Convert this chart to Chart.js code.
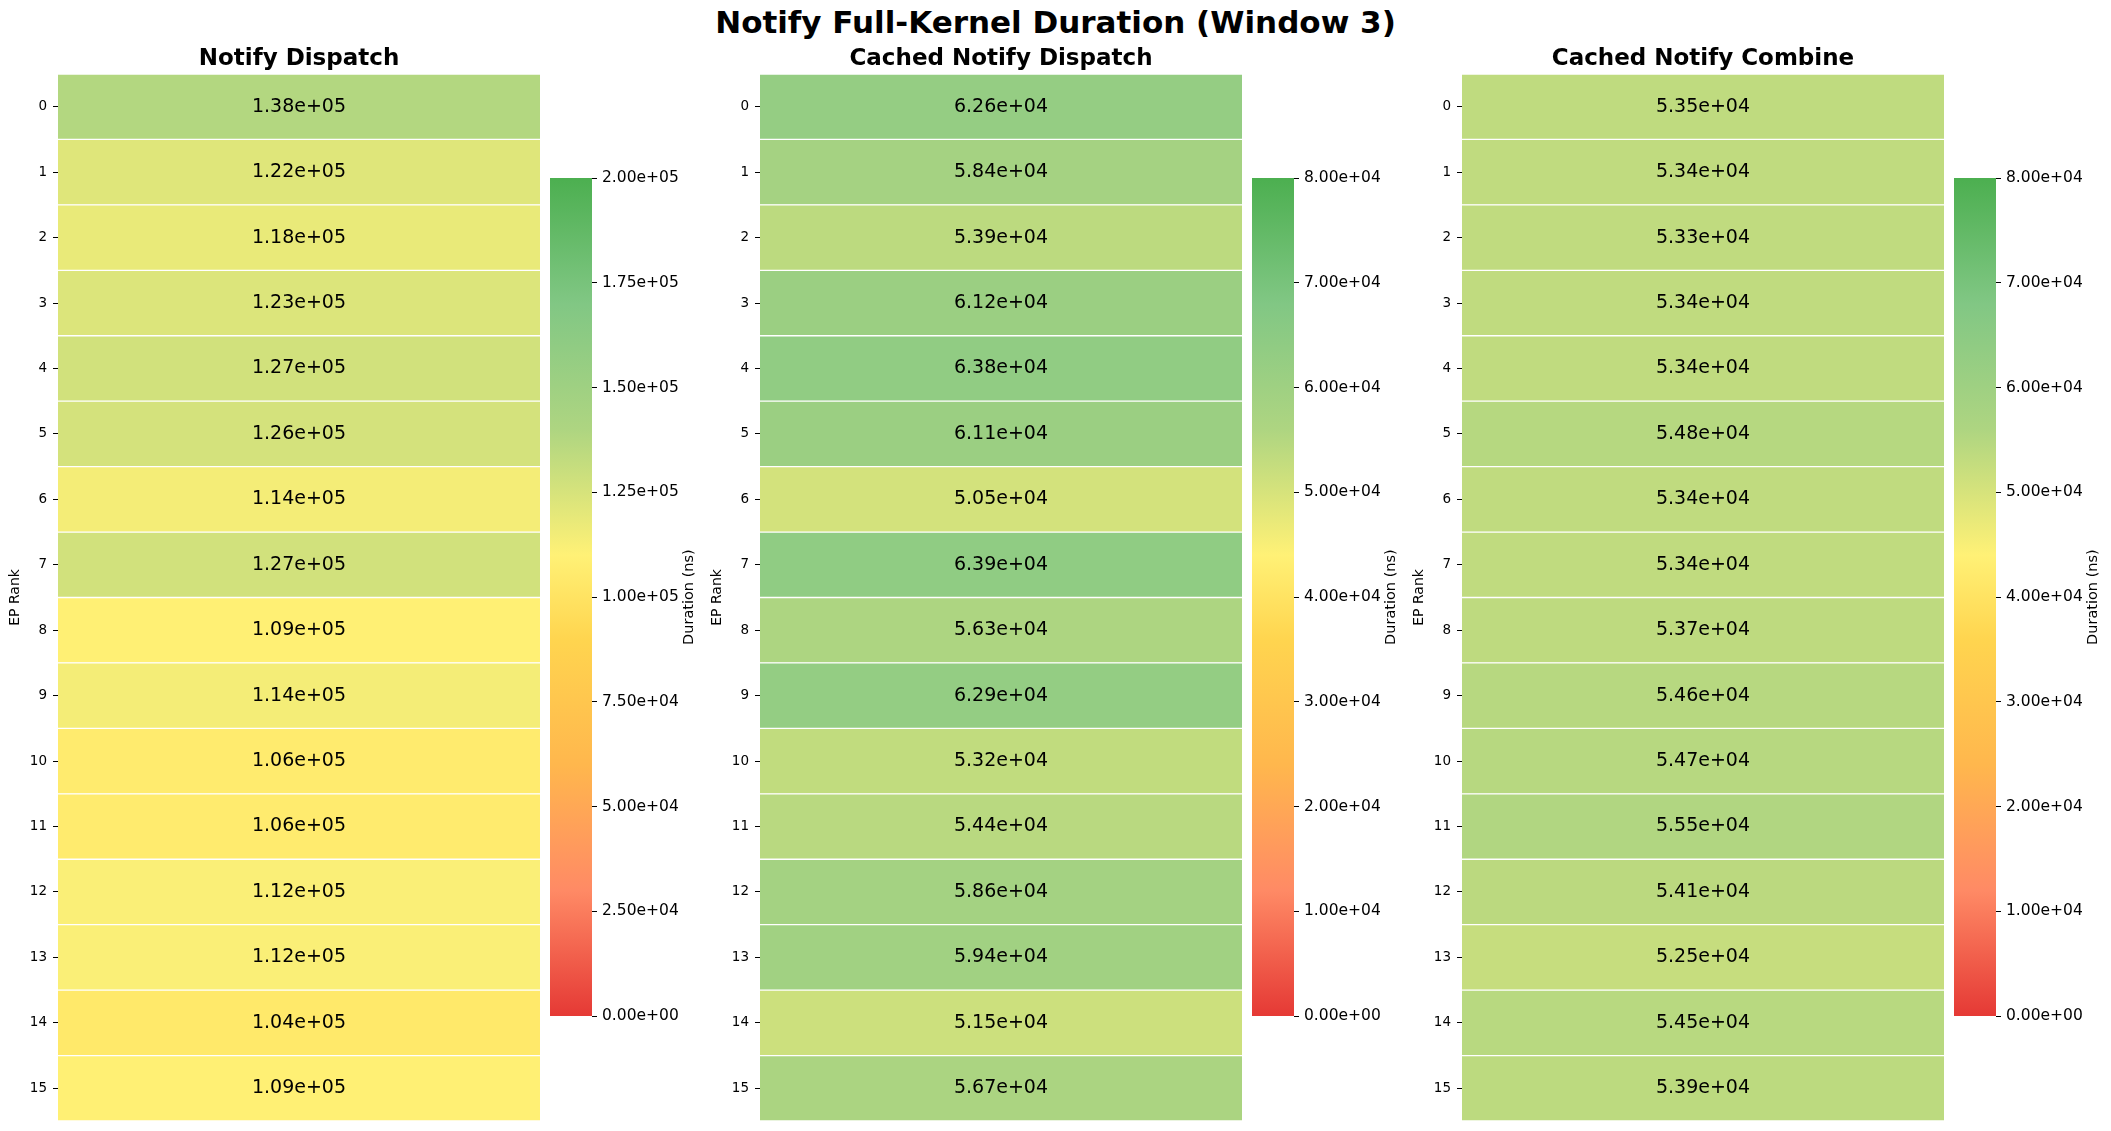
<!DOCTYPE html>
<html>
<head>
<meta charset="utf-8">
<title>Notify Full-Kernel Duration (Window 3)</title>
<script src="https://cdn.jsdelivr.net/npm/chart.js@4.4.1/dist/chart.umd.min.js"></script>
<style>
  html, body { margin: 0; padding: 0; background: #fff; }
  body { width: 2111px; height: 1131px; position: relative; overflow: hidden; }
  .suptitle {
    position: absolute; left: 0; top: 4px; width: 2111px;
    text-align: center; color: #000;
    font: bold 31px/36px 'DejaVu Sans', sans-serif;
  }
  .box { position: absolute; }
  .box canvas { display: block; }
</style>
</head>
<body>
<div class="suptitle">Notify Full-Kernel Duration (Window 3)</div>
<script>
// -----------------------------------------------------------------------------
// Data
// -----------------------------------------------------------------------------

const RANKS = ['0', '1', '2', '3', '4', '5', '6', '7', '8', '9', '10', '11', '12', '13', '14', '15'];

const NOTIFY_DISPATCH = [
  138000, 122000, 118000, 123000, 127000, 126000, 114000, 127000,
  109000, 114000, 106000, 106000, 112000, 112000, 104000, 109000,
];
const CACHED_NOTIFY_DISPATCH = [
  62600, 58400, 53900, 61200, 63800, 61100, 50500, 63900,
  56300, 62900, 53200, 54400, 58600, 59400, 51500, 56700,
];
const CACHED_NOTIFY_COMBINE = [
  53500, 53400, 53300, 53400, 53400, 54800, 53400, 53400,
  53700, 54600, 54700, 55500, 54100, 52500, 54500, 53900,
];

const PANEL_TITLES = ['Notify Dispatch', 'Cached Notify Dispatch', 'Cached Notify Combine'];
const COLOR_MAX = [200000, 80000, 80000];
const COLOR_STEP = [25000, 10000, 10000];

// -----------------------------------------------------------------------------
// Layout (pixels) and colormap
// -----------------------------------------------------------------------------

const FONT = "'DejaVu Sans', sans-serif";
const FIG_H = 1131;
const PANEL_LEFT = [58, 760, 1462];
const CELL_W = 482;
const AXIS_W = 58;
const TITLE_TOP = 45.5;
const TITLE_SIZE = 23;
const HEAT_TOP = 74;
const HEAT_BOTTOM = 1121;
const CB_GAP = 10;
const CB_W = 42;
const CB_AXIS_W = 115;
const CB_TOP = 177.5;
const CB_BOTTOM = 1015.7;
const CB_PAD = 12;

const CMAP_STOPS = [
  [0.00, '#e53935'],
  [0.15, '#ff8a65'],
  [0.30, '#ffb74d'],
  [0.45, '#ffd54f'],
  [0.55, '#fff176'],
  [0.70, '#aed581'],
  [0.85, '#81c784'],
  [1.00, '#4caf50'],
];

function hexRgb(h) {
  return [1, 3, 5].map((i) => parseInt(h.slice(i, i + 2), 16));
}

function cmap(t) {
  t = Math.min(1, Math.max(0, t));
  for (let i = 1; i < CMAP_STOPS.length; i += 1) {
    const [p1, c1] = CMAP_STOPS[i];
    if (t > p1 && i < CMAP_STOPS.length - 1) continue;
    const [p0, c0] = CMAP_STOPS[i - 1];
    const f = (t - p0) / (p1 - p0);
    const a = hexRgb(c0);
    const b = hexRgb(c1);
    const rgb = a.map((v, k) => Math.round(v + (b[k] - v) * f));
    return `rgb(${rgb[0]}, ${rgb[1]}, ${rgb[2]})`;
  }
  return CMAP_STOPS[CMAP_STOPS.length - 1][1];
}

// matplotlib-style "1.38e+05"
function sci(v) {
  const [m, e] = Number(v).toExponential(2).split('e');
  const n = parseInt(e, 10);
  return `${m}e${n < 0 ? '-' : '+'}${String(Math.abs(n)).padStart(2, '0')}`;
}

function makeBox(left, top, width, height) {
  const box = document.createElement('div');
  box.className = 'box';
  box.style.left = `${left}px`;
  box.style.top = `${top}px`;
  box.style.width = `${width}px`;
  box.style.height = `${height}px`;
  const canvas = document.createElement('canvas');
  box.appendChild(canvas);
  document.body.appendChild(box);
  return canvas;
}

// -----------------------------------------------------------------------------
// Plugins
// -----------------------------------------------------------------------------

const cellLabelPlugin = {
  id: 'cellLabels',
  afterDatasetsDraw(chart, args, opts) {
    const values = opts.values;
    if (!values) return;
    const meta = chart.getDatasetMeta(0);
    const ctx = chart.ctx;
    ctx.save();
    ctx.font = `19px ${FONT}`;
    ctx.fillStyle = '#000';
    ctx.textAlign = 'center';
    ctx.textBaseline = 'middle';
    meta.data.forEach((bar, i) => {
      const { x, y } = bar.getCenterPoint();
      ctx.fillText(sci(values[i]), x, y);
    });
    ctx.restore();
  },
};

// colorbar label reads bottom-to-top, which the scale title can't do on the right
const cbarLabelPlugin = {
  id: 'cbarLabel',
  afterDraw(chart, args, opts) {
    const area = chart.chartArea;
    const ctx = chart.ctx;
    ctx.save();
    ctx.font = `14.5px ${FONT}`;
    ctx.fillStyle = '#000';
    ctx.textAlign = 'center';
    ctx.textBaseline = 'middle';
    ctx.translate(area.right + opts.offset, (area.top + area.bottom) / 2);
    ctx.rotate(-Math.PI / 2);
    ctx.fillText(opts.text, 0, 0);
    ctx.restore();
  },
};

function colorbarGradient(chart) {
  const y = chart.scales.y;
  if (!chart.chartArea || !y) return CMAP_STOPS[0][1];
  const g = chart.ctx.createLinearGradient(0, y.getPixelForValue(y.min), 0, y.getPixelForValue(y.max));
  for (const [pos, col] of CMAP_STOPS) g.addColorStop(pos, col);
  return g;
}

// -----------------------------------------------------------------------------
// Charts
// -----------------------------------------------------------------------------

function buildHeatmap(i, values) {
  const vmax = COLOR_MAX[i];
  const canvas = makeBox(PANEL_LEFT[i] - AXIS_W, 0, AXIS_W + CELL_W, FIG_H);
  new Chart(canvas, {
    type: 'bar',
    plugins: [cellLabelPlugin],
    data: {
      labels: RANKS,
      datasets: [{
        data: values.map(() => [0, 1]),
        backgroundColor: values.map((v) => cmap(v / vmax)),
        borderColor: '#ffffff',
        borderWidth: { top: 1, bottom: 1, left: 0, right: 0 },
        borderSkipped: false,
        barPercentage: 1,
        categoryPercentage: 1,
      }],
    },
    options: {
      indexAxis: 'y',
      animation: false,
      responsive: true,
      maintainAspectRatio: false,
      layout: {
        autoPadding: false,
        padding: { top: TITLE_TOP, bottom: FIG_H - HEAT_BOTTOM, left: 0, right: 0 },
      },
      plugins: {
        legend: { display: false },
        tooltip: { enabled: false },
        title: {
          display: true,
          fullSize: false, // centre over the cells, not over cells + axis
          text: PANEL_TITLES[i],
          color: '#000',
          font: { family: FONT, size: TITLE_SIZE, weight: 'bold' },
          padding: { top: 0, bottom: HEAT_TOP - TITLE_TOP - TITLE_SIZE * 1.2 },
        },
        cellLabels: { values },
      },
      scales: {
        x: { display: false, min: 0, max: 1 },
        y: {
          offset: true,
          border: { display: false },
          grid: { display: true, drawOnChartArea: false, offset: false, tickLength: 5, color: '#000', lineWidth: 1 },
          ticks: { color: '#000', font: { family: FONT, size: 13.5 }, padding: 6 },
          title: {
            display: true,
            text: 'EP Rank',
            color: '#000',
            font: { family: FONT, size: 14 },
            padding: { top: 6.6, bottom: 0 },
          },
          afterFit: (s) => { s.width = AXIS_W; s.paddingTop = 0; s.paddingBottom = 0; },
        },
      },
    },
  });
}

function buildColorbar(i) {
  const vmax = COLOR_MAX[i];
  const left = PANEL_LEFT[i] + CELL_W + CB_GAP;
  const canvas = makeBox(left, CB_TOP - CB_PAD, CB_W + CB_AXIS_W, CB_BOTTOM - CB_TOP + 2 * CB_PAD);
  new Chart(canvas, {
    type: 'bar',
    plugins: [cbarLabelPlugin],
    data: {
      labels: [''],
      datasets: [{
        data: [[0, vmax]],
        backgroundColor: (c) => colorbarGradient(c.chart),
        borderWidth: 0,
        barPercentage: 1,
        categoryPercentage: 1,
      }],
    },
    options: {
      animation: false,
      responsive: true,
      maintainAspectRatio: false,
      layout: { autoPadding: false, padding: { top: CB_PAD, bottom: CB_PAD, left: 0, right: 0 } },
      plugins: {
        legend: { display: false },
        tooltip: { enabled: false },
        cbarLabel: { text: 'Duration (ns)', offset: 97 },
      },
      scales: {
        x: { display: false },
        y: {
          position: 'right',
          min: 0,
          max: vmax,
          border: { display: false },
          grid: { display: true, drawOnChartArea: false, tickLength: 5, color: '#000', lineWidth: 1 },
          ticks: {
            stepSize: COLOR_STEP[i],
            color: '#000',
            font: { family: FONT, size: 15.5 },
            padding: 5,
            callback: (v) => sci(v),
          },
          afterFit: (s) => { s.width = CB_AXIS_W; s.paddingTop = 0; s.paddingBottom = 0; },
        },
      },
    },
  });
}

[NOTIFY_DISPATCH, CACHED_NOTIFY_DISPATCH, CACHED_NOTIFY_COMBINE].forEach((values, i) => {
  buildHeatmap(i, values);
  buildColorbar(i);
});
</script>
</body>
</html>
